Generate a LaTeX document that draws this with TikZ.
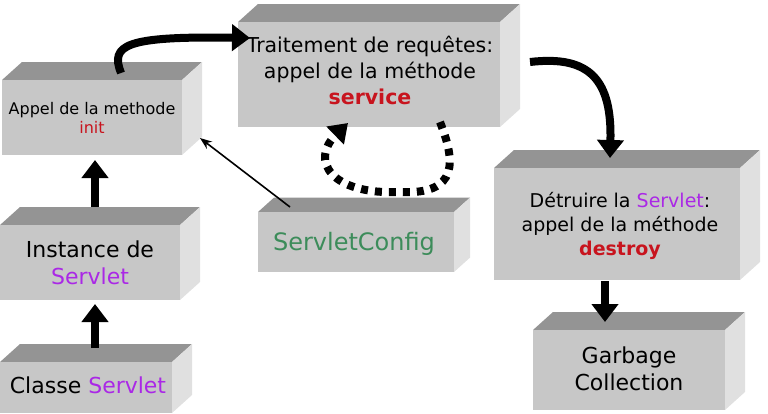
\documentclass[tikz,border=0pt]{standalone}
\usepackage{fontspec}
\setmainfont{DejaVu Sans}
\usetikzlibrary{arrows.meta}
\definecolor{front}{gray}{0.78}
\definecolor{topc}{gray}{0.58}
\definecolor{sidec}{gray}{0.88}
\definecolor{red1}{RGB}{200,20,30}
\definecolor{purp}{RGB}{170,40,230}
\definecolor{grn}{RGB}{60,140,90}
\newcommand{\boxthree}[6]{% name, x1,y1,x2,y2, depth
  \fill[topc] (#2,#3) -- ++(#6,-#6*0.9) -- (#4+#6,#3-#6*0.9) -- (#4,#3) -- cycle;
  \fill[sidec] (#4,#3) -- (#4+#6,#3-#6*0.9) -- (#4+#6,#5-#6*0.9) -- (#4,#5) -- cycle;
  \fill[front] (#2,#3) rectangle (#4,#5);
  \coordinate (#1) at ({(#2+#4)/2},{(#3+#5)/2});
}
\begin{document}
\begin{tikzpicture}[x=1pt,y=-1pt,
  thick arrow/.style={line width=8pt,-{Triangle[length=18pt,width=26pt]}},
  lbl/.style={align=center,font=\fontsize{22}{27}\selectfont}]
\useasboundingbox (0,0) rectangle (768,413);
\boxthree{b1}{2}{80}{182}{155}{20}
\boxthree{b2}{0}{225}{180}{300}{20}
\boxthree{b3}{0}{362}{172}{413}{20}
\boxthree{b4}{238}{22}{500}{127}{20}
\boxthree{b5}{258}{212}{454}{272}{16}
\boxthree{b6}{494}{168}{740}{280}{20}
\boxthree{b7}{533}{330}{725}{410}{20}
\node[align=center,font=\fontsize{16}{19}\selectfont] (t1) at (92,118) {Appel de la methode\\\textcolor{red1}{init}};
\node[lbl] (t2) at (90,263) {Instance de\\\textcolor{purp}{Servlet}};
\node[lbl] (t3) at (88,385) {Classe \textcolor{purp}{Servlet}};
\node[align=center,font=\fontsize{20.5}{26}\selectfont] (t4) at (370,70) {Traitement de requêtes:\\appel de la méthode\\\textcolor{red1}{\bfseries service}};
\node[text=grn,font=\fontsize{24}{28}\selectfont] (t5) at (354,244) {ServletConfig};
\node[align=center,font=\fontsize{19}{24}\selectfont] (t6) at (620,226) {Détruire la \textcolor{purp}{Servlet}:\\appel de la méthode\\\textcolor{red1}{\bfseries destroy}};
\node[lbl] (t7) at (629,369) {Garbage\\Collection};
\coordinate (a1) at (121,73);
\coordinate (a2) at (250,38);
\draw[thick arrow] (a1) .. controls (110,45) and (125,36) .. (a2);
\coordinate (c1) at (530,62);
\coordinate (c2) at (610,158);
\draw[thick arrow] (c1) .. controls (590,55) and (612,80) .. (c2);
\coordinate (d1) at (440,122);
\coordinate (d2) at (348,123);
\draw[line width=8pt,dash pattern=on 7pt off 7pt,-{Triangle[length=18pt,width=24pt]}] (d1) .. controls (455,160) and (460,195) .. (400,192) .. controls (330,195) and (310,160) .. (d2);
\coordinate (e1) at (290,207);
\coordinate (e2) at (200,138);
\draw[line width=1.6pt,-{Stealth[length=12pt,width=9pt]}] (e1) -- (e2);
\draw[thick arrow] (95,207) -- (95,160);
\draw[thick arrow] (95,348) -- (95,304);
\draw[thick arrow] (605,281) -- (605,322);
\end{tikzpicture}
\end{document}
